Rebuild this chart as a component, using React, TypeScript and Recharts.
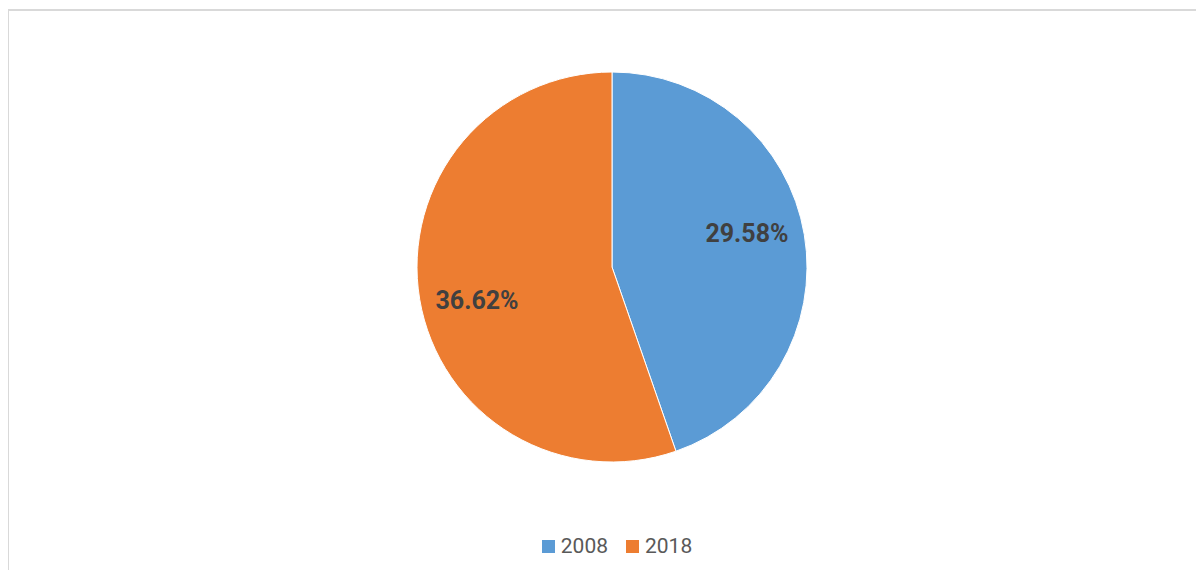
import { Legend, Pie, PieChart, Cell } from "recharts";

const years = ["2008", "2018"];
const shares = [29.58, 36.62];
const colors = ["#5B9BD5", "#ED7D31"];

const chartData = years.map((year, i) => ({ name: year, value: shares[i] }));

const RADIAN = Math.PI / 180;

// excel sets the inner labels a little counter-clockwise of the slice middle
function SliceLabel(props: any) {
  const { cx, cy, midAngle, outerRadius, value } = props;
  const r = outerRadius * 0.713;
  const a = (midAngle + 4.3) * RADIAN;
  const x = cx + r * Math.cos(-a);
  const y = cy + r * Math.sin(-a);
  return (
    <text
      x={x}
      y={y}
      textAnchor="middle"
      dominantBaseline="central"
      fill="#404040"
      fontSize={25}
      fontWeight={700}
      fontFamily="Roboto, sans-serif"
    >
      {`${value.toFixed(2)}%`}
    </text>
  );
}

function LegendRow({ payload }: { payload?: any[] }) {
  return (
    <div style={{ display: "flex", justifyContent: "center", gap: 18, fontFamily: "Roboto, sans-serif" }}>
      {(payload ?? []).map((entry) => (
        <div key={entry.value} style={{ display: "flex", alignItems: "center", gap: 6 }}>
          <span style={{ width: 13, height: 13, background: entry.color, display: "inline-block" }} />
          <span style={{ color: "#595959", fontSize: 21 }}>{entry.value}</span>
        </div>
      ))}
    </div>
  );
}

export default function App() {
  return (
    <div style={{ position: "relative", width: 1196, height: 562, overflow: "hidden", background: "#fff" }}>
      <div
        style={{
          position: "absolute",
          left: -1,
          top: 1,
          width: 1300,
          height: 700,
          borderTop: "2px solid #d9d9d9",
          borderLeft: "2px solid #d9d9d9",
        }}
      />
      <div style={{ position: "absolute", left: 0, top: 0 }}>
        <PieChart width={1196} height={562} margin={{ top: 0, right: 0, bottom: 0, left: 0 }}>
          <Pie
            data={chartData}
            dataKey="value"
            nameKey="name"
            cx={604}
            cy={259}
            outerRadius={195}
            startAngle={90}
            endAngle={-270}
            stroke="#ffffff"
            strokeWidth={1}
            label={SliceLabel}
            labelLine={false}
            isAnimationActive={false}
          >
            {chartData.map((d, i) => (
              <Cell key={d.name} fill={colors[i]} />
            ))}
          </Pie>
          <Legend
            content={<LegendRow />}
            wrapperStyle={{ top: 526, left: 9, width: 1200 }}
          />
        </PieChart>
      </div>
    </div>
  );
}
